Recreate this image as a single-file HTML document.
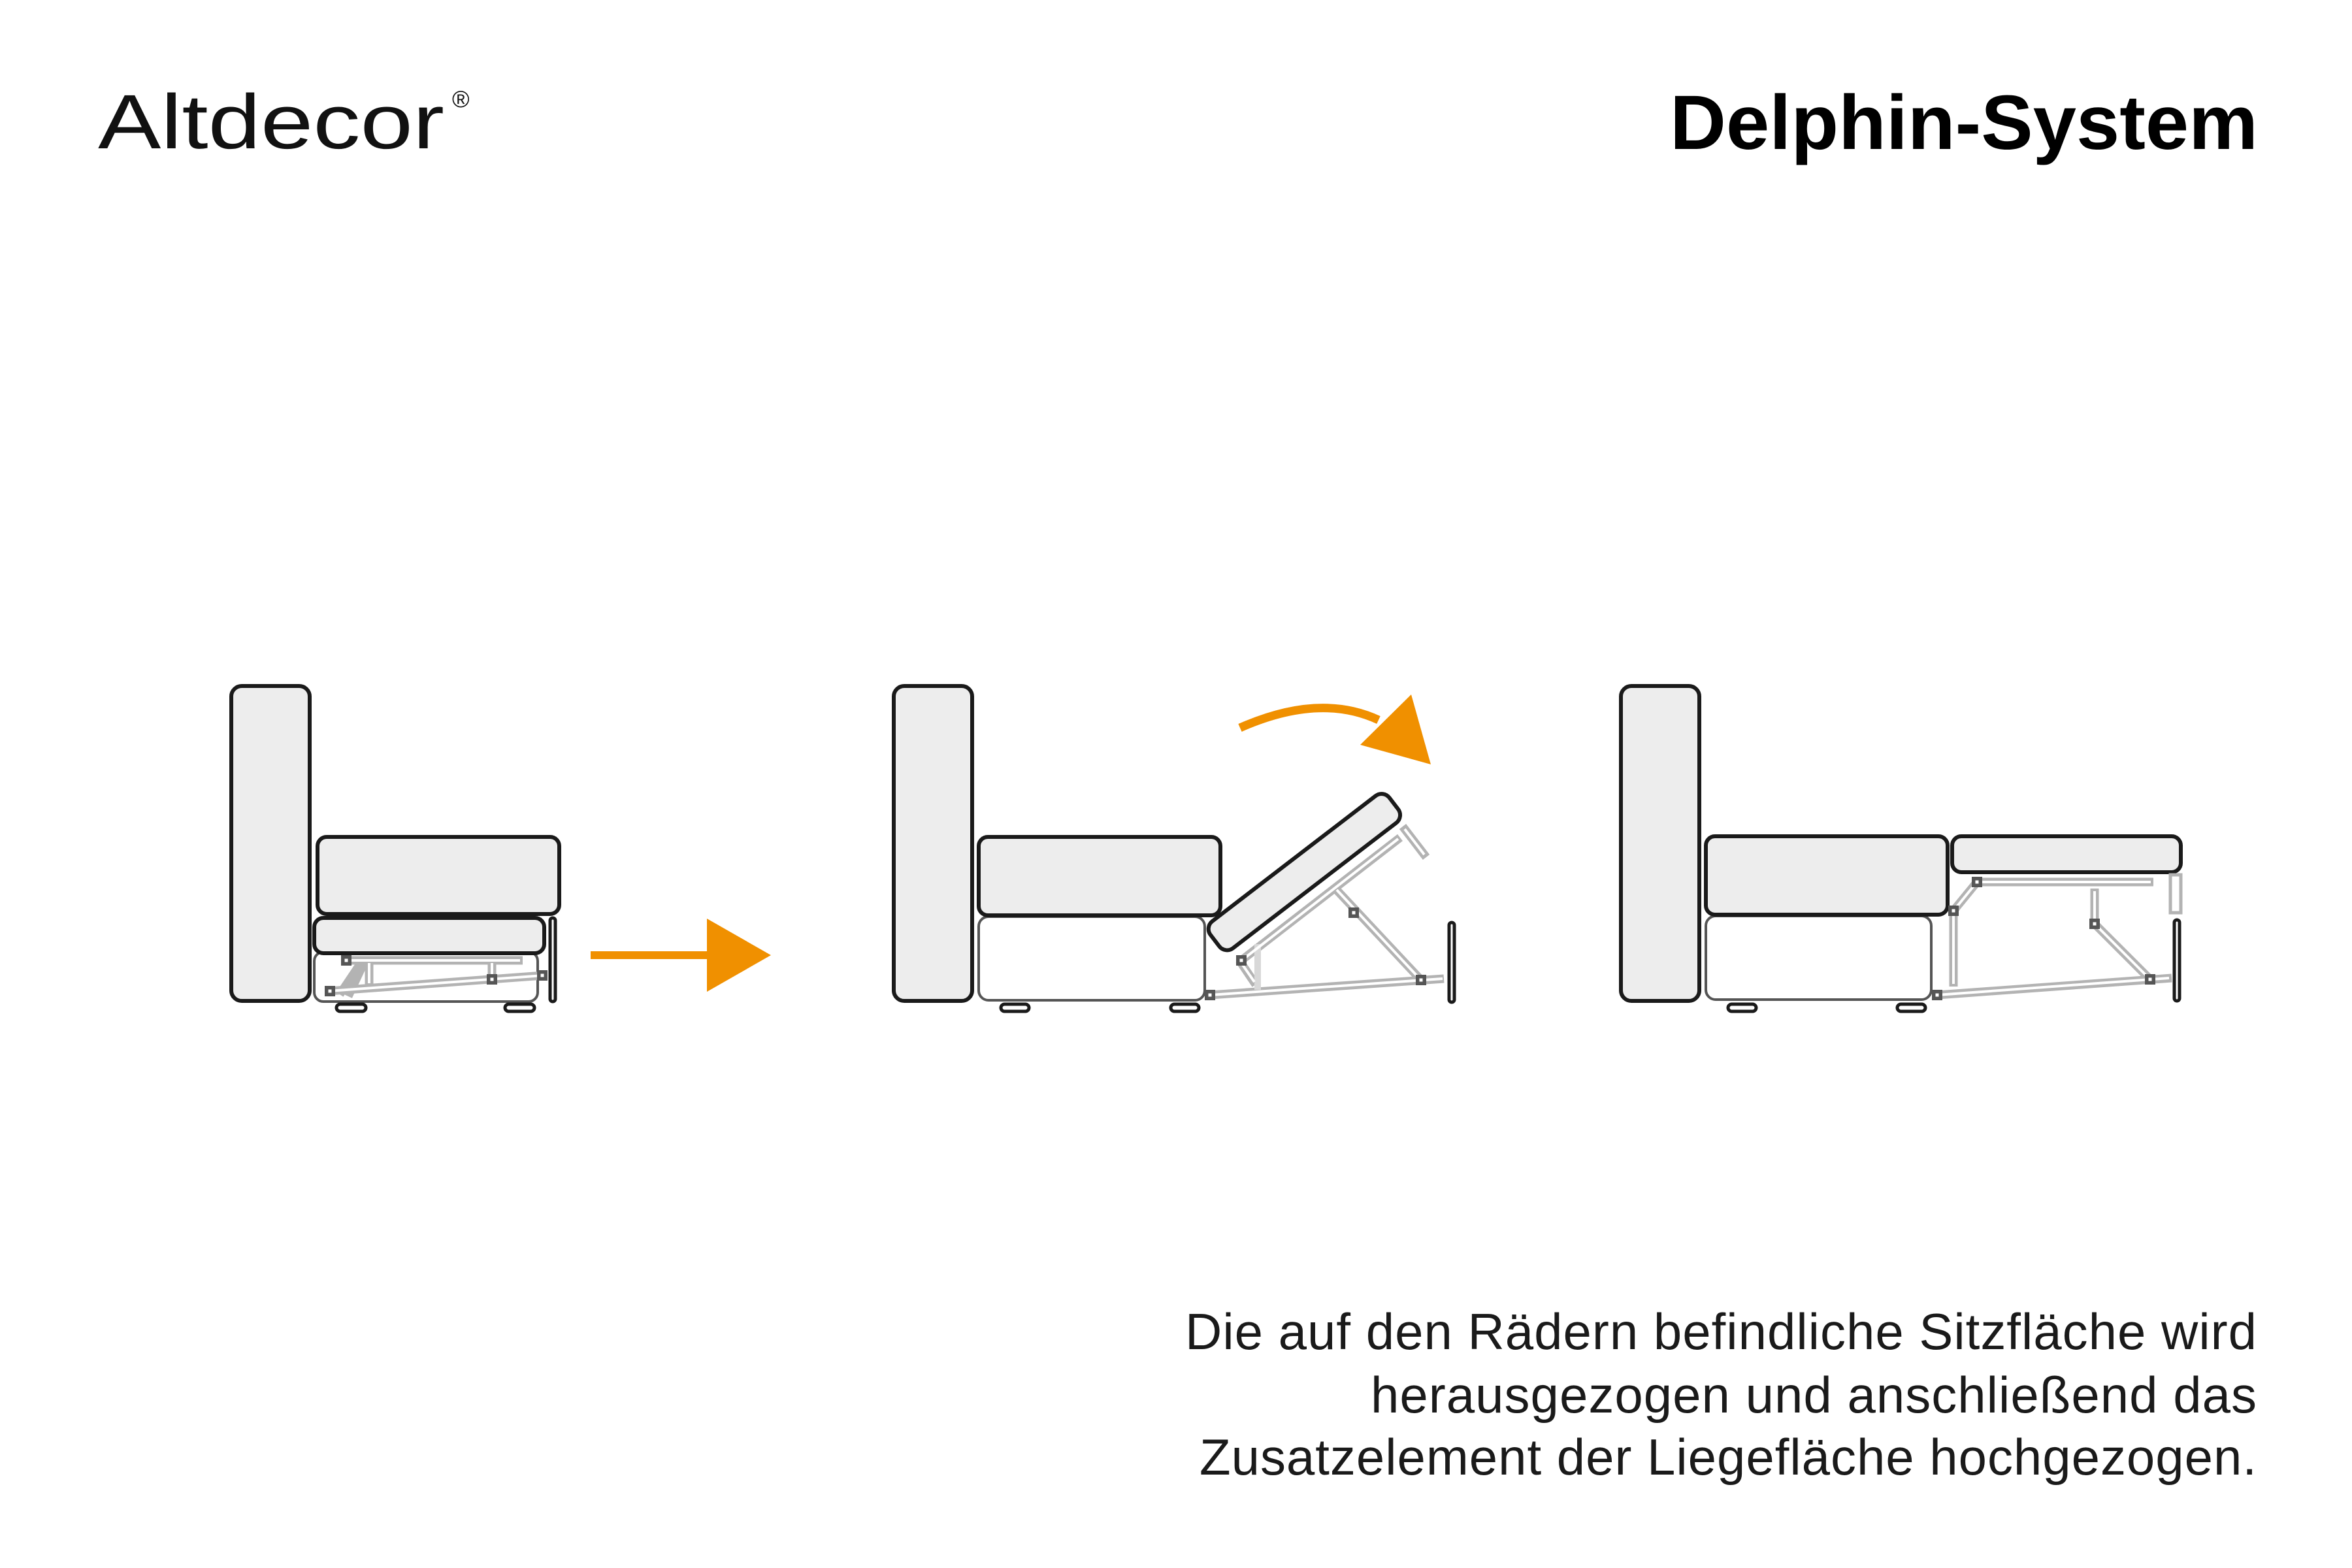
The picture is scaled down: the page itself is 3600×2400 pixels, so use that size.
<!DOCTYPE html>
<html><head><meta charset="utf-8"><style>
html,body{margin:0;padding:0;background:#fff;}
svg{display:block;}
</style></head><body>
<svg width="3600" height="2400" viewBox="0 0 3600 2400" xmlns="http://www.w3.org/2000/svg">
<defs>
<g id="j"><rect x="-8" y="-8" width="16" height="16" fill="#555"/><rect x="-2.5" y="-2.5" width="5" height="5" fill="#fff"/></g>
</defs>
<rect width="3600" height="2400" fill="#fff"/>

<!-- Texts -->
<text x="150" y="227" font-family="Liberation Sans, sans-serif" font-size="118" fill="#111" textLength="530" lengthAdjust="spacingAndGlyphs">Altdecor</text>
<text x="692" y="164" font-family="Liberation Sans, sans-serif" font-size="36" fill="#111">®</text>
<text x="3456" y="228" text-anchor="end" font-family="Liberation Sans, sans-serif" font-weight="bold" font-size="118" fill="#000" textLength="900" lengthAdjust="spacingAndGlyphs">Delphin-System</text>
<g font-family="Liberation Sans, sans-serif" font-size="78" fill="#1a1a1a" text-anchor="end" lengthAdjust="spacingAndGlyphs">
<text x="3454" y="2065" textLength="1640">Die auf den Rädern befindliche Sitzfläche wird</text>
<text x="3454" y="2162" textLength="1356">herausgezogen und anschließend das</text>
<text x="3454" y="2257" textLength="1618">Zusatzelement der Liegefläche hochgezogen.</text>
</g>

<!-- ===== Diagram 1 ===== -->
<g stroke-linejoin="round">
<rect x="354" y="1050" width="120" height="482" rx="16" fill="#ededed" stroke="#1a1a1a" stroke-width="6"/>
<rect x="481" y="1457" width="342" height="76" rx="14" fill="#fff" stroke="#555" stroke-width="4"/>
<rect x="486" y="1281" width="370" height="118" rx="14" fill="#ededed" stroke="#1a1a1a" stroke-width="6"/>
<rect x="481" y="1405" width="352" height="54" rx="14" fill="#ededed" stroke="#1a1a1a" stroke-width="6"/>
<rect x="842" y="1405" width="8" height="128" rx="4" fill="#fff" stroke="#1a1a1a" stroke-width="5"/>
<rect x="515" y="1537" width="45" height="11" rx="5.5" fill="#fff" stroke="#1a1a1a" stroke-width="5"/>
<rect x="773" y="1537" width="45" height="11" rx="5.5" fill="#fff" stroke="#1a1a1a" stroke-width="5"/>
</g>
<g fill="none" stroke-linecap="butt">
<g stroke="#b3b3b3" stroke-width="13">
<line x1="530" y1="1470" x2="800" y2="1470"/>
<line x1="503" y1="1517" x2="832" y2="1493"/>
<line x1="753" y1="1470" x2="753" y2="1499"/>
<line x1="565" y1="1470" x2="565" y2="1507"/>
<line x1="560" y1="1467" x2="533" y2="1525"/>
<line x1="557" y1="1467" x2="520" y2="1522"/>
</g>
<g stroke="#fff" stroke-width="4">
<line x1="530" y1="1470" x2="796" y2="1470"/>
<line x1="503" y1="1517" x2="832" y2="1493"/>
<line x1="753" y1="1474" x2="753" y2="1499"/>
<line x1="565" y1="1474" x2="565" y2="1505"/>
</g>
</g>
<use href="#j" x="530" y="1470"/><use href="#j" x="753" y="1499"/><use href="#j" x="505" y="1517"/><use href="#j" x="830" y="1493"/>
<!-- arrow 1 -->
<rect x="904" y="1456" width="182" height="12" fill="#f09000"/>
<polygon points="1082,1406 1180,1462 1082,1518" fill="#f09000"/>

<!-- ===== Diagram 2 ===== -->
<g stroke-linejoin="round" transform="translate(-10,0)">
<rect x="1378" y="1050" width="120" height="482" rx="16" fill="#ededed" stroke="#1a1a1a" stroke-width="6"/>
<rect x="1508" y="1403" width="346" height="128" rx="15" fill="#fff" stroke="#555" stroke-width="4"/>
<rect x="1508" y="1281" width="370" height="120" rx="14" fill="#ededed" stroke="#1a1a1a" stroke-width="6"/>
<rect x="1542" y="1537" width="43" height="11" rx="5.5" fill="#fff" stroke="#1a1a1a" stroke-width="5"/>
<rect x="1802" y="1537" width="43" height="11" rx="5.5" fill="#fff" stroke="#1a1a1a" stroke-width="5"/>
</g>
<rect x="2218" y="1412" width="8" height="122" rx="4" fill="#fff" stroke="#1a1a1a" stroke-width="5"/>
<g fill="none" stroke-linecap="butt">
<g stroke="#b3b3b3" stroke-width="13">
<line x1="1852" y1="1523" x2="2210" y2="1498"/>
<line x1="2042" y1="1358" x2="2175" y2="1500"/>
<line x1="1900" y1="1470" x2="2143" y2="1282"/>
<line x1="2147" y1="1265" x2="2183" y2="1312"/>
<line x1="1897" y1="1470" x2="1922" y2="1507"/>
</g>
<line x1="1925" y1="1445" x2="1925" y2="1515" stroke="#d8d8d8" stroke-width="10"/>
<g stroke="#fff" stroke-width="4">
<line x1="1852" y1="1523" x2="2208" y2="1498"/>
<line x1="2046" y1="1362" x2="2172" y2="1497"/>
<line x1="1903" y1="1468" x2="2140" y2="1284"/>
<line x1="2150" y1="1269" x2="2180" y2="1308"/>
<line x1="1900" y1="1474" x2="1920" y2="1503"/>
</g>
</g>
<use href="#j" x="1852" y="1523"/><use href="#j" x="2175" y="1500"/><use href="#j" x="2072" y="1397"/><use href="#j" x="1900" y="1470"/>
<rect x="1824" y="1309" width="345" height="52" rx="15" fill="#ededed" stroke="#1a1a1a" stroke-width="6" transform="rotate(-37.5 1996 1335)"/>
<!-- curved arrow -->
<path d="M1898,1114 Q2020,1060 2110,1102" fill="none" stroke="#f09000" stroke-width="13"/>
<polygon points="2160,1063 2190,1170 2082,1140" fill="#f09000"/>

<!-- ===== Diagram 3 ===== -->
<g transform="translate(-22,0)">
<g stroke-linejoin="round">
<rect x="2503" y="1050" width="120" height="482" rx="16" fill="#ededed" stroke="#1a1a1a" stroke-width="6"/>
<rect x="2633" y="1402" width="345" height="128" rx="15" fill="#fff" stroke="#555" stroke-width="4"/>
<rect x="2633" y="1280" width="370" height="120" rx="14" fill="#ededed" stroke="#1a1a1a" stroke-width="6"/>
<rect x="3010" y="1280" width="350" height="55" rx="14" fill="#ededed" stroke="#1a1a1a" stroke-width="6"/>
<rect x="3350" y="1408" width="8" height="124" rx="4" fill="#fff" stroke="#1a1a1a" stroke-width="5"/>
<rect x="2667" y="1537" width="43" height="11" rx="5.5" fill="#fff" stroke="#1a1a1a" stroke-width="5"/>
<rect x="2926" y="1537" width="43" height="11" rx="5.5" fill="#fff" stroke="#1a1a1a" stroke-width="5"/>
</g>
<g fill="none" stroke-linecap="butt">
<g stroke="#b3b3b3" stroke-width="13">
<line x1="3048" y1="1350" x2="3318" y2="1350"/>
<line x1="3048" y1="1350" x2="3012" y2="1394"/>
<line x1="3012" y1="1394" x2="3012" y2="1510"/>
<line x1="3228" y1="1360" x2="3228" y2="1414"/>
<line x1="3228" y1="1414" x2="3313" y2="1499"/>
<line x1="2987" y1="1523" x2="3346" y2="1497"/>
</g>
<rect x="3344" y="1339" width="16" height="58" fill="#fff" stroke="#b3b3b3" stroke-width="5"/>
<g stroke="#fff" stroke-width="4">
<line x1="3048" y1="1350" x2="3314" y2="1350"/>
<line x1="3048" y1="1350" x2="3012" y2="1394"/>
<line x1="3012" y1="1394" x2="3012" y2="1506"/>
<line x1="3228" y1="1364" x2="3228" y2="1414"/>
<line x1="3228" y1="1414" x2="3313" y2="1499"/>
<line x1="2987" y1="1523" x2="3342" y2="1497"/>
</g>
</g>
<use href="#j" x="3048" y="1350"/><use href="#j" x="3012" y="1394"/><use href="#j" x="3228" y="1414"/><use href="#j" x="3313" y="1499"/><use href="#j" x="2987" y="1523"/>
</g>
</svg>
</body></html>
